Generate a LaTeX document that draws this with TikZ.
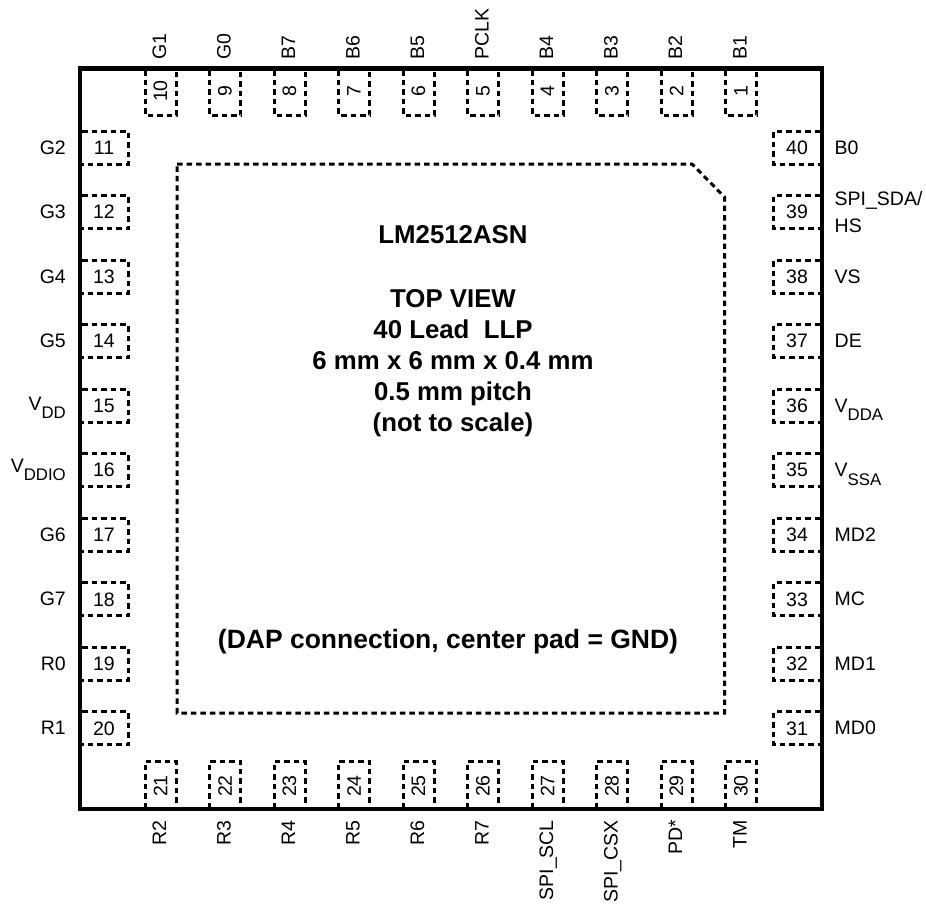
\documentclass[tikz,border=0pt]{standalone}
\usepackage{fontspec}
\setmainfont{Liberation Sans}
\tikzset{padline/.style={line width=3pt, dash pattern=on 5.5pt off 4pt},
	pinnum/.style={inner sep=0pt, font=\fontsize{19.5}{20}\selectfont},
	pinname/.style={inner sep=0pt, font=\fontsize{19.5}{27}\selectfont},
	chiptext/.style={inner sep=0pt, align=center, font=\fontsize{25.8}{31}\selectfont\bfseries}}
\newcommand{\subname}[2]{#1\raisebox{-8.5pt}{\fontsize{16.8}{18}\selectfont #2}}

\begin{document}
\begin{tikzpicture}[x=1pt,y=-1pt]
	
	\useasboundingbox (0,0) rectangle (926,905);
	
	% top row
	\foreach \num/\pinlabel [count=\i from 0] in {10/G1,9/G0,8/B7,7/B6,6/B5,5/PCLK,4/B4,3/B3,2/B2,1/B1} {
		\pgfmathsetmacro{\xc}{160.5+64.5*\i}
		\draw [padline] (\xc-15.5,70) -- (\xc-15.5,115) -- (\xc+15.5,115) -- (\xc+15.5,70);
		\node [pinnum, rotate=90] (pad\num) at (\xc,91) {\num};
		\node [pinname, rotate=90, anchor=base west] (pin\num) at (\xc+5.5,59.5) {\pinlabel};
	}
	
	% bottom row
	\foreach \num/\pinlabel [count=\i from 0] in {21/R2,22/R3,23/R4,24/R5,25/R6,26/R7,27/SPI\_SCL,28/SPI\_CSX,29/PD*,30/TM} {
		\pgfmathsetmacro{\xc}{160.5+64.5*\i}
		\draw [padline] (\xc-15.5,808) -- (\xc-15.5,761) -- (\xc+15.5,761) -- (\xc+15.5,808);
		\node [pinnum, rotate=90] (pad\num) at (\xc,786) {\num};
		\node [pinname, rotate=90, anchor=base east] (pin\num) at (\xc+5.5,820) {\pinlabel};
	}
	
	% left row
	\foreach \num/\pinlabel [count=\i from 0] in {11/G2,12/G3,13/G4,14/G5,15/{\raisebox{2pt}{\subname{V}{DD}}},16/{\raisebox{4.5pt}{\subname{V}{DDIO}}},17/G6,18/G7,19/R0,20/R1} {
		\pgfmathsetmacro{\yc}{147.5+64.55*\i}
		\draw [padline] (82,\yc-16.5) -- (128,\yc-16.5) -- (128,\yc+16.5) -- (82,\yc+16.5);
		\node [pinnum] (pad\num) at (104,\yc) {\num};
		\node [pinname, anchor=base east] (pin\num) at (66,\yc+6.5) {\pinlabel};
	}
	
	% right row
	\foreach \num/\pinlabel [count=\i from 0] in {40/B0,39/{},38/VS,37/DE,36/{\subname{V}{DDA}},35/{\subname{V}{SSA}},34/MD2,33/MC,32/MD1,31/MD0} {
		\pgfmathsetmacro{\yc}{147.5+64.55*\i}
		\draw [padline] (820,\yc-16.5) -- (773.5,\yc-16.5) -- (773.5,\yc+16.5) -- (820,\yc+16.5);
		\node [pinnum] (pad\num) at (797,\yc) {\num};
		\node [pinname, anchor=base west] (pin\num) at (834.5,\yc+6.5) {\pinlabel};
	}
	\node [pinname, anchor=west, align=left] (pin39) at (834.5,212) {SPI\_SDA/\\HS};
	
	% center pad
	\draw [padline] (177,164) -- (692,164) -- (724.5,197) -- (724.5,713) -- (177,713) -- cycle;
	
	\draw [line width=4.5pt] (80,68.5) rectangle (822,809);
	
	\node [chiptext] (partname) at (453,235) {LM2512ASN};
	\node [chiptext, anchor=north] (package) at (453,289) {TOP VIEW\\40 Lead\ \ LLP\\6 mm x 6 mm x 0.4 mm\\0.5 mm pitch\\(not to scale)};
	\node [chiptext, font=\fontsize{26.5}{31}\selectfont\bfseries] (dapnote) at (448,642) {(DAP connection, center pad = GND)};
	
\end{tikzpicture}
\end{document}
